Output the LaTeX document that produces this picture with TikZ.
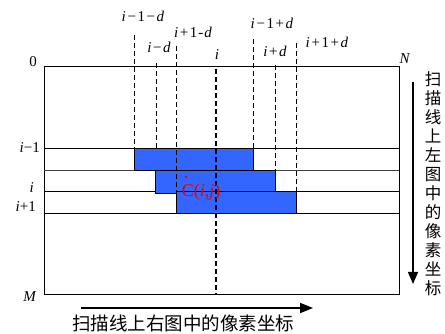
\documentclass[tikz,border=0pt]{standalone}
\usepackage{fontspec}
\setmainfont{Liberation Serif}
\newfontfamily\cjkf{Noto Sans CJK SC}
\usetikzlibrary{arrows.meta}
\definecolor{barblue}{RGB}{51,102,255}
\definecolor{cred}{RGB}{230,0,0}
\newcommand\vari{\textit{i}}
\newcommand\vard{\textit{d}}
\newcommand\myminus{\kern1.6pt−\kern1.6pt}
\newcommand\myplus{\kern1.6pt+\kern1.6pt}
\begin{document}
\begin{tikzpicture}[x=1pt,y=-1pt,
  lbl/.style={font=\fontsize{15}{15}\selectfont, inner sep=0pt},
  frameline/.style={line width=0.8pt},
  vdash/.style={dash pattern=on 5pt off 3pt, line width=0.8pt},
  vdashb/.style={dash pattern=on 5pt off 3pt, line width=1.3pt},
  barbox/.style={fill=barblue, draw=black, line width=0.8pt},
  cjklbl/.style={inner sep=0pt, align=center}]
\useasboundingbox (0,0) rectangle (445,334);
% frame and scan lines
\draw[frameline] (44,66) rectangle (399,294);
\draw[frameline] (44,148) -- (399,148);
\draw[frameline, black!75] (44,170) -- (399,170);
\draw[frameline] (44,191) -- (399,191);
\draw[frameline] (44,213) -- (399,213);
% bars
\draw[barbox] (134.3,148) rectangle (253.8,170);
\draw[barbox] (155.7,170) rectangle (275.3,193);
\draw[barbox] (176.7,191) rectangle (296.7,213);
% dashed lines
\draw[vdash]  (134.3,35) -- (134.3,148);
\draw[vdash]  (156,63) -- (156,148);
\draw[vdashb] (176.7,46) -- (176.7,191);
\draw[vdashb] (216,69) -- (216,294);
\draw[vdashb] (253.8,39) -- (253.8,148);
\draw[vdash]  (275.3,65) -- (275.3,170);
\draw[vdash]  (296.7,43) -- (296.7,191);
% top labels
\node[lbl] (l1) at (143,16) {\vari\myminus1\myminus\vard};
\node[lbl] (l2) at (193,32) {\vari\myplus1\kern1pt-\kern1pt\vard};
\node[lbl] (l3) at (159,47) {\vari\myminus\vard};
\node[lbl] (l4) at (217,55) {\vari};
\node[lbl] (l5) at (272,23) {\vari\myminus1\myplus\vard};
\node[lbl] (l6) at (275,51) {\vari\myplus\vard};
\node[lbl] (l7) at (327,42) {\vari\myplus1\myplus\vard};
\node[lbl] (zero) at (33,62) {0};
\node[lbl] (nn) at (405,59) {\textit{N}};
\node[lbl] (mm) at (30,297) {\textit{M}};
% left labels
\node[lbl, anchor=east] (r1) at (40,148) {\vari−1};
\node[lbl, anchor=east] (r2) at (34,188) {\vari};
\node[lbl, anchor=east] (r3) at (36,207) {\vari+1};
% C(i,j)
\fill[cred] (186,177) circle (1.4pt);
\node[inner sep=0pt, text=cred, font=\fontsize{18}{18}\selectfont] (cij) at (201,192) {C(\textit{i},\textit{j})};
% arrows
\coordinate (va) at (413,82);
\coordinate (vb) at (413,284);
\draw[line width=1.3pt, -{Triangle[length=12pt,width=10pt]}] (va) -- (vb);
\coordinate (ha) at (81,308);
\coordinate (hb) at (313,308);
\draw[line width=1.8pt, -{Triangle[length=13pt,width=10pt]}] (ha) -- (hb);
% Chinese texts
\node[cjklbl, font=\cjkf\fontsize{16.5}{19}\selectfont] (vtext) at (433,184) {扫\\描\\线\\上\\左\\图\\中\\的\\像\\素\\坐\\标};
\node[cjklbl, font=\cjkf\fontsize{18.5}{19}\selectfont] (htext) at (183.3,323.5) {扫描线上右图中的像素坐标};
\end{tikzpicture}
\end{document}
